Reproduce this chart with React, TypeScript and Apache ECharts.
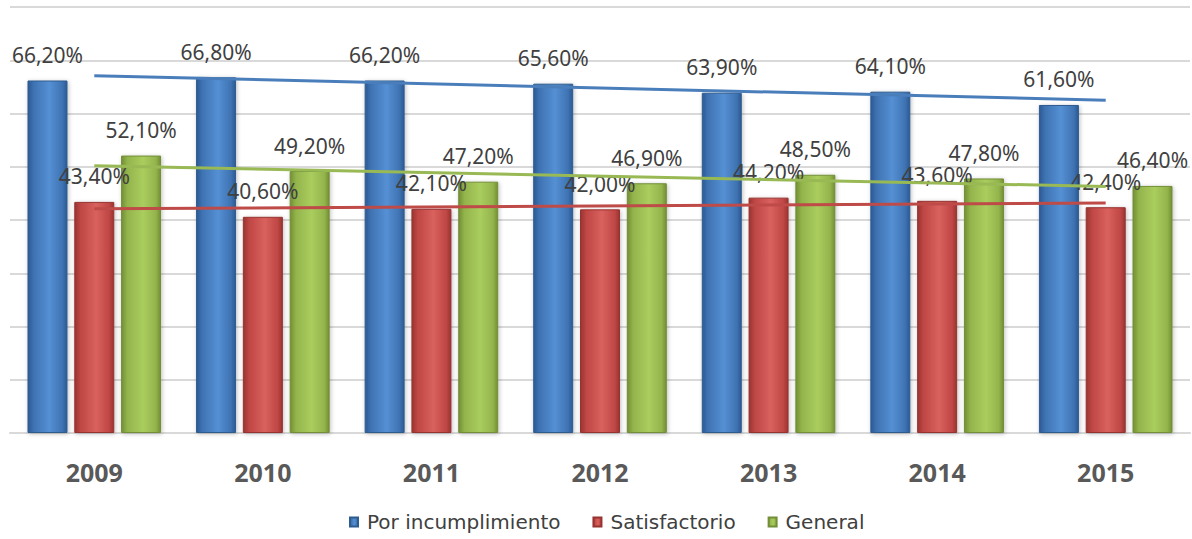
import React, { useEffect, useRef } from "react";
import * as echarts from "echarts";

const years = ["2009", "2010", "2011", "2012", "2013", "2014", "2015"];
const porIncumplimiento = [66.2, 66.8, 66.2, 65.6, 63.9, 64.1, 61.6];
const satisfactorio = [43.4, 40.6, 42.1, 42.0, 44.2, 43.6, 42.4];
const general = [52.1, 49.2, 47.2, 46.9, 48.5, 47.8, 46.4];
// trend line start (2009) and end (2015) values
const trendPor = [67.1, 62.5];
const trendSat = [42.1, 43.2];
const trendGen = [50.2, 46.3];
const yTicks = [0, 10, 20, 30, 40, 50, 60, 70, 80];

const FONT = "Noto Sans";

function grad(dark: string, mid: string, light: string) {
  return new echarts.graphic.LinearGradient(1, 0, 0, 0, [
    { offset: 0, color: dark },
    { offset: 0.12, color: mid },
    { offset: 0.45, color: light },
    { offset: 0.85, color: mid },
    { offset: 1, color: dark },
  ]);
}

function trendData(t: number[]) {
  return years.map((_, i) => (i === 0 ? t[0] : i === years.length - 1 ? t[1] : null));
}

const fmt = (p: any) => p.value.toFixed(2).replace(".", ",") + "%";

export default function App() {
  const ref = useRef<HTMLDivElement>(null);
  useEffect(() => {
    if (!ref.current) return;
    const chart = echarts.init(ref.current, undefined, { renderer: "svg" });
    const label = {
      show: true,
      position: "top" as const,
      distance: 15,
      formatter: fmt,
      fontFamily: FONT,
      fontSize: 21,
      color: "#404040",
    };
    const barBase = {
      type: "bar" as const,
      barWidth: 40,
      barGap: "17%",
      label,
      z: 2,
    };
    const shadow = {
      borderWidth: 1,
      shadowColor: "rgba(0,0,0,0.25)",
      shadowBlur: 4,
      shadowOffsetX: 1,
      shadowOffsetY: 1,
    };
    chart.setOption({
      animation: false,
      backgroundColor: "#ffffff",
      grid: { left: 10, right: 2, top: 7, bottom: 106, containLabel: false },
      legend: {
        top: 512,
        left: 349,
        data: ["Por incumplimiento", "Satisfactorio", "General"],
        icon: "rect",
        itemWidth: 8,
        itemHeight: 9,
        itemGap: 32,
        padding: 0,
        textStyle: {
          fontFamily: "DejaVu Sans",
          fontSize: 20,
          color: "#404040",
          padding: [0, 0, 0, 4],
        },
      },
      xAxis: {
        type: "category",
        data: years,
        axisTick: { show: false },
        axisLine: { lineStyle: { color: "#d9d9d9", width: 2 } },
        axisLabel: {
          margin: 26,
          fontFamily: FONT,
          fontSize: 25,
          fontWeight: "bold",
          color: "#595959",
        },
      },
      yAxis: {
        type: "value",
        min: yTicks[0],
        max: yTicks[yTicks.length - 1],
        interval: 10,
        axisLabel: { show: false },
        axisLine: { show: false },
        axisTick: { show: false },
        splitLine: { lineStyle: { color: "#d9d9d9", width: 2 } },
      },
      series: [
        {
          ...barBase,
          name: "Por incumplimiento",
          data: porIncumplimiento,
          itemStyle: {
            color: grad("#2c5a94", "#3f73b3", "#5590d4"),
            borderColor: "#2f5c8f",
            ...shadow,
          },
        },
        {
          ...barBase,
          name: "Satisfactorio",
          data: satisfactorio,
          itemStyle: {
            color: grad("#9a3431", "#bf4744", "#d9615e"),
            borderColor: "#963331",
            ...shadow,
          },
        },
        {
          ...barBase,
          name: "General",
          data: general,
          itemStyle: {
            color: grad("#738f34", "#93b44c", "#aacd5e"),
            borderColor: "#728e38",
            ...shadow,
          },
        },
        {
          type: "line",
          name: "trendPor",
          data: trendData(trendPor),
          connectNulls: true,
          symbol: "none",
          lineStyle: { color: "#4a7ebb", width: 3 },
          z: 5,
        },
        {
          type: "line",
          name: "trendSat",
          data: trendData(trendSat),
          connectNulls: true,
          symbol: "none",
          lineStyle: { color: "#be4b48", width: 3 },
          z: 5,
        },
        {
          type: "line",
          name: "trendGen",
          data: trendData(trendGen),
          connectNulls: true,
          symbol: "none",
          lineStyle: { color: "#98b954", width: 3 },
          z: 5,
        },
      ],
    });
    return () => chart.dispose();
  }, []);
  return (
    <div
      ref={ref}
      style={{ position: "fixed", left: 0, top: 0, width: 1192, height: 539 }}
    />
  );
}
